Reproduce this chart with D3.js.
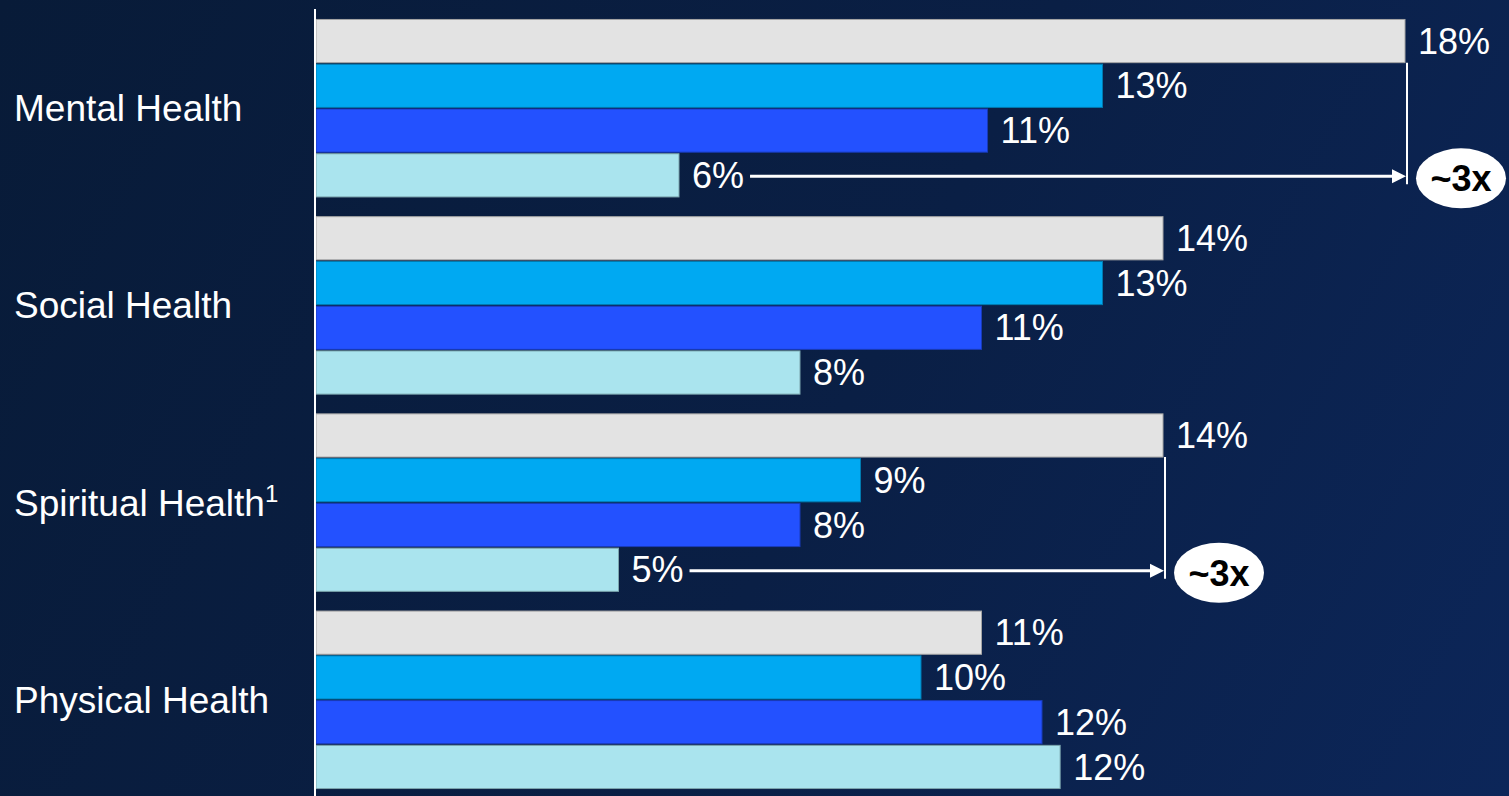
<!DOCTYPE html>
<html>
<head>
<meta charset="utf-8">
<script src="https://cdn.jsdelivr.net/npm/d3@7"></script>
<style>
  html, body { margin: 0; padding: 0; overflow: hidden; background: #0a1f44; }
  svg { display: block; font-family: "Liberation Sans", Arial, Helvetica, sans-serif; }
</style>
</head>
<body>
<svg id="chart" width="1509" height="796"></svg>
<script>
// ---- data ----
const categories = ["Mental Health", "Social Health", "Spiritual Health", "Physical Health"];
const footnotes = ["", "", "1", ""];
const seriesKeys = ["s1", "s2", "s3", "s4"];
const seriesColors = ["#e3e3e3", "#00a9f2", "#2351ff", "#aae4ee"];
const s1Values = [18, 14, 14, 11];
const s2Values = [13, 13, 9, 10];
const s3Values = [11.1, 11, 8, 12];
const s4Values = [6, 8, 5, 12.3];
const calloutCategories = ["Mental Health", "Spiritual Health"];
const calloutText = "~3x";

const seriesValues = [s1Values, s2Values, s3Values, s4Values];
const rows = categories.flatMap((c, ci) =>
  seriesKeys.map((k, si) => ({ category: c, key: k, value: seriesValues[si][ci], color: seriesColors[si] })));

// ---- layout ----
const W = 1509, H = 796;
const svg = d3.select("#chart");

const defs = svg.append("defs");
const grad = defs.append("linearGradient")
  .attr("id", "bg").attr("gradientUnits", "userSpaceOnUse")
  .attr("x1", 0).attr("y1", 0).attr("x2", W).attr("y2", H);
grad.append("stop").attr("offset", "0%").attr("stop-color", "#081b38");
grad.append("stop").attr("offset", "55%").attr("stop-color", "#0a1f45");
grad.append("stop").attr("offset", "100%").attr("stop-color", "#0c2659");
svg.append("rect").attr("width", W).attr("height", H).attr("fill", "url(#bg)");

const x = d3.scaleLinear().domain([0, 18]).range([316, 1405]);
const y0 = d3.scaleBand().domain(categories).range([9.6, 798.4]).paddingInner(0.1).paddingOuter(0.05);
const y1 = d3.scaleBand().domain(seriesKeys).range([0, y0.bandwidth()]).paddingInner(0.035);
const fmt = v => d3.format(".0f")(v) + "%";
const barY = d => y0(d.category) + y1(d.key);
const barMid = (c, k) => y0(c) + y1(k) + y1.bandwidth() / 2;

// ---- bars ----
svg.append("g").selectAll("rect").data(rows).join("rect")
  .attr("x", x(0))
  .attr("y", barY)
  .attr("width", d => x(d.value) - x(0))
  .attr("height", y1.bandwidth())
  .attr("fill", d => d.color)
  .attr("stroke", d => d3.color(d.color).darker(0.9))
  .attr("stroke-width", 1);

// ---- value labels ----
const labels = svg.append("g").selectAll("text").data(rows).join("text")
  .attr("x", d => x(d.value) + 13)
  .attr("y", d => barY(d) + y1.bandwidth() / 2)
  .attr("dy", "0.35em")
  .attr("fill", "#ffffff")
  .attr("font-size", 36)
  .text(d => fmt(d.value));

// ---- category axis ----
const axis = svg.append("g")
  .attr("transform", `translate(315,0)`)
  .call(d3.axisLeft(y0).tickSize(0).tickSizeOuter(0).tickPadding(0));
axis.select(".domain").attr("stroke", "#ffffff").attr("stroke-width", 2)
  .attr("d", `M0,9V${H}`);
axis.selectAll(".tick text")
  .attr("x", 14 - 315)
  .attr("dy", "0.35em")
  .attr("text-anchor", "start")
  .attr("fill", "#ffffff")
  .attr("font-size", 37)
  .attr("font-family", "\"Liberation Sans\", Arial, sans-serif")
  .each(function (d) {
    const note = footnotes[categories.indexOf(d)];
    if (note) {
      d3.select(this).append("tspan")
        .attr("font-size", 24)
        .attr("dy", "-0.55em")
        .text(note);
    }
  });

// ---- callouts ----
const co = svg.append("g");
calloutCategories.forEach(c => {
  const ci = categories.indexOf(c);
  const top = s1Values[ci], low = s4Values[ci];
  const lx = x(top) + 2;
  const yLow = barMid(c, "s4") + 1;
  const lowLabel = labels.filter(d => d.category === c && d.key === "s4").node();
  const startX = x(low) + 13 + lowLabel.getComputedTextLength() + 6;

  co.append("line")
    .attr("x1", lx).attr("x2", lx)
    .attr("y1", y0(c) + y1("s1") + y1.bandwidth())
    .attr("y2", yLow + 8)
    .attr("stroke", "#ffffff").attr("stroke-width", 2);

  co.append("line")
    .attr("x1", startX).attr("x2", lx - 12)
    .attr("y1", yLow).attr("y2", yLow)
    .attr("stroke", "#ffffff").attr("stroke-width", 3);

  co.append("path")
    .attr("d", `M${lx - 1},${yLow} L${lx - 15},${yLow - 7} L${lx - 15},${yLow + 7} Z`)
    .attr("fill", "#ffffff");

  const cx = lx + 54, cy = yLow + 2;
  co.append("ellipse")
    .attr("cx", cx).attr("cy", cy).attr("rx", 45).attr("ry", 30)
    .attr("fill", "#ffffff");
  co.append("text")
    .attr("x", cx).attr("y", cy)
    .attr("dy", "0.36em")
    .attr("text-anchor", "middle")
    .attr("font-weight", "bold")
    .attr("font-size", 36)
    .attr("fill", "#000000")
    .text(calloutText);
});
</script>
</body>
</html>
